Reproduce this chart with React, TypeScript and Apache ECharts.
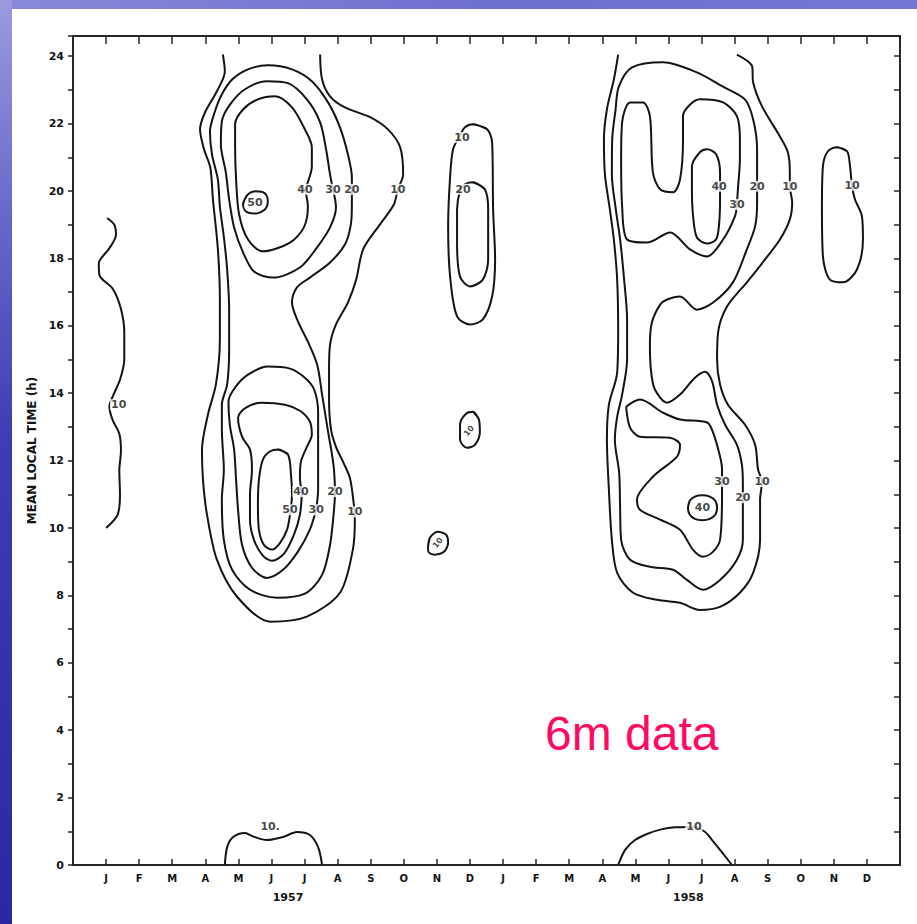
import React, { useEffect, useRef } from "react";
import * as echarts from "echarts";

type P = [number, number];

// x axis: 0 = left frame, 1..24 = Jan 1957 .. Dec 1958, 25 = right frame
const MONTHS = ["J", "F", "M", "A", "M", "J", "J", "A", "S", "O", "N", "D", "J", "F", "M", "A", "M", "J", "J", "A", "S", "O", "N", "D"];
const YEARS = ["1957", "1958"];
const YEAR_AT = [6.5, 18.6];

// ---- contour lines (month index, hour) ----
const JAN57_10: P[] = [[1.03, 19.2], [1.25, 19.0], [1.3, 18.7], [1.1, 18.3], [0.78, 17.85], [0.8, 17.5], [1.2, 17.1], [1.45, 16.5], [1.55, 15.8], [1.55, 15.0], [1.42, 14.4], [1.2, 13.9], [1.1, 13.6], [1.2, 13.2], [1.4, 12.8], [1.45, 12.3], [1.4, 11.7], [1.42, 11.0], [1.35, 10.4], [1.0, 10.0]];

const Y57_10: P[] = [[4.53, 24.05], [4.59, 23.55], [4.35, 22.96], [3.99, 22.33], [3.84, 21.83], [3.96, 21.24], [4.15, 20.7], [4.23, 19.75], [4.38, 18.27], [4.44, 16.78], [4.44, 15.59], [4.32, 14.26], [4.08, 13.37], [3.9, 12.33], [3.93, 11.43], [4.05, 10.4], [4.35, 9.06], [4.96, 7.96], [5.96, 7.22], [7.07, 7.37], [8.07, 8.08], [8.46, 9.36], [8.52, 10.25], [8.49, 10.69], [8.37, 11.49], [8.16, 11.97], [7.95, 12.41], [7.8, 12.92], [7.74, 13.81], [7.74, 14.7], [7.77, 15.44], [7.95, 16.04], [8.31, 16.69], [8.56, 17.37], [8.77, 18.27], [9.28, 19.01], [9.7, 19.6], [9.82, 20.05], [9.98, 20.49], [9.89, 21.3], [9.52, 21.83], [8.98, 22.19], [8.22, 22.48], [7.77, 22.81], [7.53, 23.31], [7.47, 24.05]];

const Y57_20: P[] = [[8.43, 20.05], [8.43, 20.4], [8.31, 21.09], [8.07, 21.89], [7.71, 22.63], [7.22, 23.26], [6.62, 23.61], [5.89, 23.73], [5.29, 23.61], [4.81, 23.31], [4.5, 22.87], [4.29, 22.36], [4.14, 21.77], [4.2, 21.09], [4.38, 20.34], [4.44, 19.54], [4.57, 18.56], [4.66, 17.67], [4.72, 16.48], [4.72, 15.3], [4.66, 14.26], [4.5, 13.66], [4.5, 12.92], [4.56, 11.73], [4.5, 10.84], [4.56, 9.65], [4.81, 8.76], [5.35, 8.17], [6.17, 7.93], [7.01, 8.05], [7.53, 8.61], [7.77, 9.5], [7.89, 10.54], [7.92, 11.08], [7.89, 11.73], [7.83, 12.18], [7.71, 12.86], [7.53, 13.96], [7.38, 14.85], [7.1, 15.53], [6.8, 16.13], [6.62, 16.69], [6.77, 17.14], [7.16, 17.43], [7.77, 17.88], [8.22, 18.41], [8.4, 19.01], [8.43, 19.6]];

const Y57_30_UP: P[] = [[7.86, 20.05], [7.77, 20.49], [7.65, 21.24], [7.47, 22.04], [7.07, 22.72], [6.5, 23.2], [5.86, 23.26], [5.2, 23.02], [4.75, 22.57], [4.5, 22.07], [4.47, 21.38], [4.62, 20.55], [4.72, 19.75], [4.87, 18.92], [5.14, 18.18], [5.47, 17.61], [6.05, 17.43], [6.86, 17.73], [7.38, 18.33], [7.77, 18.92], [7.95, 19.51]];

const Y57_40_UP: P[] = [[7.01, 20.05], [7.1, 20.26], [7.22, 20.73], [7.22, 21.3], [7.01, 21.83], [6.62, 22.48], [6.11, 22.81], [5.59, 22.72], [5.14, 22.42], [4.9, 21.98], [4.9, 21.38], [4.93, 20.34], [5.02, 19.31], [5.29, 18.56], [5.74, 18.21], [6.56, 18.47], [6.98, 18.92], [7.1, 19.54]];

const Y57_50_UP: P[] = [[5.14, 19.6], [5.26, 19.87], [5.53, 19.99], [5.8, 19.93], [5.89, 19.72], [5.8, 19.45], [5.5, 19.33], [5.23, 19.39]];

const Y57_30_LO: P[] = [[7.35, 10.54], [7.41, 11.14], [7.41, 12.33], [7.41, 13.42], [7.29, 14.11], [7.01, 14.46], [6.56, 14.73], [5.89, 14.79], [5.29, 14.55], [4.9, 14.17], [4.7, 13.75], [4.74, 13.07], [4.87, 12.33], [4.93, 11.43], [4.99, 10.54], [5.11, 9.5], [5.41, 8.82], [5.86, 8.52], [6.35, 8.76], [6.8, 9.3], [7.16, 9.95]];

const Y57_40_LO: P[] = [[6.92, 11.05], [6.86, 11.49], [6.89, 11.97], [7.07, 12.41], [7.22, 12.77], [7.16, 13.16], [6.86, 13.48], [6.41, 13.66], [5.71, 13.72], [5.23, 13.57], [4.99, 13.28], [5.11, 12.71], [5.35, 12.33], [5.41, 11.73], [5.35, 10.99], [5.35, 10.25], [5.47, 9.65], [5.74, 9.18], [6.02, 9.03], [6.38, 9.24], [6.68, 9.8], [6.86, 10.4]];

const Y57_50_LO: P[] = [[6.2, 12.33], [6.5, 12.18], [6.59, 11.58], [6.62, 10.99], [6.56, 10.4], [6.47, 9.95], [6.26, 9.56], [6.02, 9.36], [5.77, 9.5], [5.62, 9.95], [5.59, 10.69], [5.62, 11.43], [5.74, 12.03], [5.95, 12.27]];

const Y57_10_NIGHT: P[] = [[4.59, 0], [4.66, 0.53], [4.84, 0.83], [5.2, 0.95], [5.44, 0.85], [5.86, 0.74], [6.35, 0.83], [6.77, 0.98], [7.16, 0.89], [7.41, 0.53], [7.53, 0]];

const DEC57_10: P[] = [[12.09, 21.98], [12.52, 21.83], [12.67, 21.44], [12.7, 19.45], [12.76, 17.97], [12.67, 16.87], [12.39, 16.19], [12.0, 16.04], [11.61, 16.28], [11.4, 17.46], [11.34, 18.95], [11.4, 20.43], [11.49, 21.24], [11.7, 21.65], [11.85, 21.89]];
const DEC57_20: P[] = [[12.09, 20.26], [12.45, 20.05], [12.55, 19.45], [12.55, 17.97], [12.39, 17.37], [12.0, 17.17], [11.7, 17.46], [11.61, 18.47], [11.61, 19.45], [11.7, 20.0], [11.85, 20.2]];
const DEC57_10_NOON: P[] = [[12.09, 13.45], [12.27, 13.22], [12.3, 12.86], [12.15, 12.47], [11.91, 12.38], [11.7, 12.62], [11.7, 13.07], [11.88, 13.39]];
const NOV57_10_MORN: P[] = [[10.73, 9.41], [10.79, 9.71], [11.03, 9.89], [11.28, 9.8], [11.34, 9.56], [11.22, 9.3], [10.94, 9.21], [10.76, 9.27]];

const Y58_10: P[] = [[16.48, 24.05], [16.35, 23.31], [16.14, 22.42], [16.05, 21.53], [16.08, 20.49], [16.23, 19.45], [16.35, 18.56], [16.45, 17.37], [16.48, 15.89], [16.45, 14.61], [16.2, 13.66], [16.14, 12.62], [16.2, 11.14], [16.29, 9.65], [16.45, 8.67], [16.93, 8.08], [17.65, 7.87], [18.35, 7.78], [18.95, 7.57], [19.56, 7.66], [20.16, 8.08], [20.56, 8.67], [20.77, 9.65], [20.77, 10.84], [20.83, 11.38], [20.71, 11.73], [20.62, 12.47], [20.31, 13.07], [19.8, 13.66], [19.56, 14.26], [19.47, 15.0], [19.5, 15.8], [19.77, 16.57], [20.37, 17.29], [20.92, 17.97], [21.37, 18.56], [21.67, 19.16], [21.74, 19.66], [21.67, 20.14], [21.67, 20.55], [21.61, 21.15], [21.37, 21.62], [20.83, 22.51], [20.56, 23.23], [20.53, 23.7], [20.07, 24.05]];

const Y58_20: P[] = [[20.68, 20.14], [20.68, 20.49], [20.68, 21.24], [20.56, 22.13], [20.31, 22.72], [19.62, 23.11], [18.86, 23.52], [17.84, 23.82], [16.9, 23.67], [16.5, 23.1], [16.4, 22.4], [16.3, 21.53], [16.29, 20.49], [16.41, 19.45], [16.54, 18.56], [16.66, 17.37], [16.75, 16.19], [16.75, 15.0], [16.6, 13.96], [16.45, 13.3], [16.38, 12.62], [16.51, 11.64], [16.54, 10.54], [16.57, 9.65], [16.84, 9.06], [17.44, 8.85], [18.14, 8.76], [18.56, 8.46], [19.04, 8.17], [19.56, 8.46], [20.07, 9.06], [20.25, 9.65], [20.25, 10.45], [20.25, 10.9], [20.25, 11.29], [20.22, 11.88], [20.07, 12.47], [19.71, 13.07], [19.47, 13.66], [19.32, 14.35], [19.11, 14.64], [18.8, 14.46], [18.35, 13.96], [17.96, 13.72], [17.59, 14.11], [17.47, 14.7], [17.44, 15.44], [17.5, 16.1], [17.75, 16.63], [17.96, 16.78], [18.35, 16.87], [18.86, 16.48], [19.35, 16.69], [19.95, 17.29], [20.37, 18.27], [20.62, 18.95], [20.68, 19.66]];

const Y58_30_UP: P[] = [[20.07, 19.6], [20.1, 20.05], [20.16, 20.94], [20.16, 21.53], [20.07, 22.22], [19.65, 22.63], [18.95, 22.72], [18.44, 22.22], [18.44, 21.53], [18.35, 20.34], [18.14, 19.96], [17.75, 20.05], [17.53, 20.55], [17.44, 22.22], [17.23, 22.63], [16.84, 22.63], [16.6, 22.04], [16.57, 20.94], [16.6, 19.54], [16.75, 18.56], [17.35, 18.47], [18.05, 18.77], [18.65, 18.27], [19.17, 18.06], [19.65, 18.56], [20.01, 19.25]];

const Y58_40_UP: P[] = [[19.56, 20.14], [19.56, 19.75], [19.53, 19.01], [19.44, 18.56], [19.17, 18.44], [18.86, 18.62], [18.74, 19.31], [18.71, 20.05], [18.71, 20.73], [18.95, 21.15], [19.17, 21.24], [19.44, 21.09], [19.56, 20.55]];

const Y58_30_LO: P[] = [[16.72, 13.6], [17.14, 13.81], [17.84, 13.42], [18.35, 13.22], [19.17, 13.13], [19.35, 12.83], [19.56, 12.12], [19.62, 11.73], [19.62, 11.38], [19.62, 10.99], [19.56, 9.65], [19.32, 9.27], [19.04, 9.15], [18.74, 9.36], [18.35, 9.95], [17.75, 10.25], [17.14, 10.54], [17.05, 10.84], [17.53, 11.52], [18.26, 12.12], [18.35, 12.47], [18.05, 12.68], [17.14, 12.71], [16.84, 12.98]];

const Y58_40_LO: P[] = [[18.59, 10.6], [18.64, 10.8], [18.8, 10.93], [19.02, 10.97], [19.25, 10.93], [19.42, 10.8], [19.47, 10.6], [19.42, 10.4], [19.25, 10.27], [19.02, 10.23], [18.8, 10.27], [18.64, 10.4]];

const Y58_10_NIGHT: P[] = [[16.48, 0], [16.69, 0.45], [16.99, 0.74], [17.35, 0.92], [17.75, 1.05], [18.2, 1.12], [18.77, 1.13], [19.11, 0.98], [19.32, 0.74], [19.56, 0.45], [19.92, 0]];

const NOV58_10: P[] = [[23.1, 21.3], [23.4, 21.18], [23.49, 20.73], [23.55, 20.14], [23.64, 19.75], [23.85, 19.25], [23.88, 18.56], [23.7, 17.67], [23.28, 17.29], [22.88, 17.37], [22.67, 18.06], [22.64, 19.54], [22.67, 20.73], [22.82, 21.18]];

const OPEN_LINES: P[][] = [JAN57_10, Y57_10, Y57_10_NIGHT, Y58_10, Y58_10_NIGHT];
// loops whose start point sits under a label
const CLOSED_AT_LABEL: P[][] = [Y57_20, Y57_30_UP, Y57_40_UP, Y57_30_LO, Y57_40_LO, Y58_20, Y58_30_UP, Y58_40_UP, Y58_30_LO];
// free loops (drawn with a wrap-around so the closing joint stays round)
const CLOSED_FREE: P[][] = [Y57_50_UP, Y57_50_LO, DEC57_10, DEC57_20, DEC57_10_NOON, NOV57_10_MORN, Y58_40_LO, NOV58_10];

// ---- contour labels: [text, month index, hour] ----
const LABELS_ON_LINE: [string, number, number][] = [
  ["10", 1.38, 13.66],
  ["40", 7.01, 20.05], ["30", 7.86, 20.05], ["20", 8.43, 20.05], ["10", 9.82, 20.05],
  ["40", 6.89, 11.08], ["20", 7.92, 11.08], ["50", 6.56, 10.54], ["30", 7.35, 10.54], ["10", 8.52, 10.48],
  ["10", 11.76, 21.59], ["20", 11.79, 20.05],
  ["40", 19.53, 20.14], ["30", 20.07, 19.6], ["20", 20.68, 20.14], ["10", 21.67, 20.14], ["10", 23.55, 20.17],
  ["30", 19.62, 11.38], ["10", 20.83, 11.38], ["20", 20.25, 10.9],
  ["10", 18.77, 1.13],
];
const LABELS_FREE: [string, number, number][] = [
  ["50", 5.5, 19.66], ["40", 19.03, 10.6], ["10.", 5.96, 1.15],
];
const LABELS_SMALL: [string, number, number][] = [
  ["10", 11.97, 12.88], ["10", 11.03, 9.56],
];

const INK = "#141414";
const FONT = "DejaVu Sans";

export default function App() {
  const ref = useRef<HTMLDivElement>(null);

  useEffect(() => {
    document.body.style.margin = "0";
    const chart = echarts.init(ref.current!, null, { renderer: "svg" });

    const lineStyle = { color: INK, width: 2 };
    const lines: any[] = [
      ...OPEN_LINES.map((pts) => pts),
      ...CLOSED_AT_LABEL.map((pts) => [...pts, pts[0]]),
      ...CLOSED_FREE.map((pts) => [...pts, pts[0], pts[1]]),
    ].map((data) => ({
      type: "line",
      data,
      smooth: 0.3,
      symbol: "none",
      showSymbol: false,
      lineStyle,
      silent: true,
      z: 2,
    }));

    const baseLabel = {
      show: true,
      position: "inside",
      formatter: "{b}",
      color: INK,
      fontFamily: FONT,
      fontWeight: "bold",
      fontSize: 11,
    };

    const labelSeries = {
      type: "scatter",
      symbol: "circle",
      symbolSize: 1,
      itemStyle: { color: "rgba(0,0,0,0)" },
      silent: true,
      z: 5,
      label: baseLabel,
      data: [
        ...LABELS_ON_LINE.map(([t, x, y]) => ({
          name: t,
          value: [x, y],
          label: { ...baseLabel, backgroundColor: "#ffffff", padding: [0, 1] },
        })),
        ...LABELS_FREE.map(([t, x, y]) => ({ name: t, value: [x, y], label: { ...baseLabel } })),
        ...LABELS_SMALL.map(([t, x, y]) => ({
          name: t,
          value: [x, y],
          label: { ...baseLabel, fontSize: 8, rotate: 50 },
        })),
      ],
    };

    const axisLine = { show: true, onZero: false, lineStyle: { color: "#262626", width: 2 } };
    const tickStyle = { color: "#262626", width: 1.5 };

    chart.setOption({
      animation: false,
      grid: { left: 73, right: 17, top: 36, bottom: 59, containLabel: false },
      xAxis: [
        {
          type: "value",
          min: 0,
          max: 25,
          interval: 1,
          position: "bottom",
          axisLine,
          axisTick: { show: true, inside: true, length: 6, lineStyle: tickStyle },
          axisLabel: {
            formatter: (v: number) => MONTHS[v - 1] ?? "",
            color: INK,
            fontWeight: "bold",
            fontSize: 10,
            fontFamily: FONT,
            margin: 8,
          },
          splitLine: { show: false },
        },
        {
          type: "value",
          min: 0,
          max: 25,
          interval: 1,
          position: "top",
          axisLine,
          axisTick: { show: true, inside: true, length: 8, lineStyle: tickStyle },
          axisLabel: { show: false },
          splitLine: { show: false },
        },
      ],
      yAxis: [
        {
          type: "value",
          min: 0,
          max: 24.6,
          interval: 1,
          position: "left",
          axisLine,
          axisTick: { show: true, inside: false, length: 5, lineStyle: tickStyle },
          axisLabel: {
            formatter: (v: number) => (Number.isInteger(v) && v % 2 === 0 ? String(v) : ""),
            color: INK,
            fontWeight: "bold",
            fontSize: 11,
            fontFamily: FONT,
            margin: 9,
          },
          name: "MEAN LOCAL TIME (h)",
          nameLocation: "middle",
          nameGap: 30,
          nameRotate: 90,
          nameTextStyle: { color: INK, fontWeight: "bold", fontSize: 12, fontFamily: FONT },
          splitLine: { show: false },
        },
        {
          type: "value",
          min: 0,
          max: 24.6,
          interval: 1,
          position: "right",
          axisLine,
          axisTick: { show: true, inside: true, length: 6, lineStyle: tickStyle },
          axisLabel: { show: false },
          splitLine: { show: false },
        },
      ],
      series: [...lines, labelSeries],
    });

    const yearGraphics = YEARS.map((t, i) => ({
      type: "text",
      x: chart.convertToPixel({ xAxisIndex: 0 }, YEAR_AT[i]) as number,
      y: 897,
      style: {
        text: t,
        fill: INK,
        fontSize: 11,
        fontWeight: "bold",
        fontFamily: FONT,
        align: "center",
        verticalAlign: "middle",
      },
    }));

    chart.setOption({
      graphic: [
        ...yearGraphics,
        {
          type: "text",
          x: 545,
          y: 733,
          style: {
            text: "6m data",
            fill: "#ff0a62",
            fontSize: 48,
            fontFamily: "Liberation Sans",
            align: "left",
            verticalAlign: "middle",
          },
        },
      ],
    });

    return () => chart.dispose();
  }, []);

  return (
    <div style={{ position: "absolute", left: 0, top: 0, width: 917, height: 924, background: "#ffffff", overflow: "hidden" }}>
      <div style={{ position: "absolute", left: 0, top: 0, width: 917, height: 9, background: "linear-gradient(to right, #8a88d8, #6e6ecf 55%, #7676d4)" }} />
      <div style={{ position: "absolute", left: 0, top: 0, width: 12, height: 924, background: "linear-gradient(to bottom, #9c9ade 0%, #6a6acb 22%, #3c3cb3 48%, #2828a4 100%)" }} />
      <div ref={ref} style={{ position: "absolute", left: 0, top: 0, width: 917, height: 924 }} />
    </div>
  );
}
